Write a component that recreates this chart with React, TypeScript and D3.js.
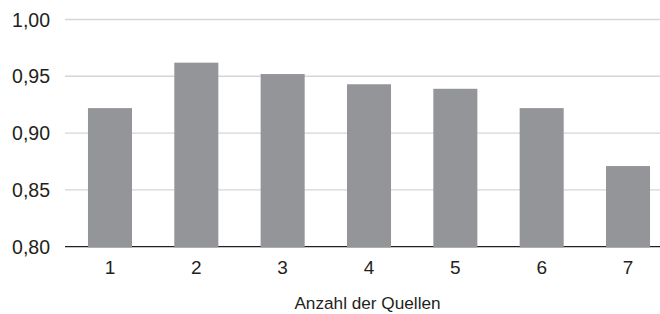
import React from "react";
import * as d3 from "d3";

const categories: string[] = ["1", "2", "3", "4", "5", "6", "7"];
const values: number[] = [0.922, 0.962, 0.952, 0.943, 0.939, 0.922, 0.871];
const yTicks: number[] = [0.8, 0.85, 0.9, 0.95, 1.0];
const xTitle = "Anzahl der Quellen";

const W = 660;
const H = 314;
const FONT = "'Liberation Sans', Arial, Helvetica, sans-serif";
const TEXT = "#231f20";

export default function App() {
  const x = d3
    .scaleBand<string>()
    .domain(categories)
    .range([65, 673])
    .paddingInner(0.49)
    .paddingOuter(0.266);
  const y = d3.scaleLinear().domain([0.8, 1.0]).range([246.7, 19.5]);
  const fmt = (v: number) => d3.format(".2f")(v).replace(".", ",");

  return (
    <svg
      width={W}
      height={H}
      style={{ position: "absolute", left: 0, top: 0, background: "#fff" }}
      fontFamily={FONT}
    >
      {yTicks.map((t) =>
        t > 0.8 ? (
          <line
            key={"g" + t}
            x1={65}
            x2={W}
            y1={y(t)}
            y2={y(t)}
            stroke="#d6d6d6"
            strokeWidth={1.4}
          />
        ) : null
      )}
      <line x1={65} x2={W} y1={y(0.8)} y2={y(0.8)} stroke={TEXT} strokeWidth={1.2} />
      {categories.map((c, i) => (
        <rect
          key={"b" + c}
          x={x(c)}
          y={y(values[i])}
          width={x.bandwidth()}
          height={y(0.8) - y(values[i]) + 0.8}
          fill="#939598"
        />
      ))}
      {yTicks.map((t) => (
        <text
          key={"yl" + t}
          x={50}
          y={y(t)}
          dy="0.36em"
          textAnchor="end"
          fontSize={19.5}
          fill={TEXT}
        >
          {fmt(t)}
        </text>
      ))}
      {categories.map((c) => (
        <text
          key={"xl" + c}
          x={(x(c) as number) + x.bandwidth() / 2}
          y={273.5}
          textAnchor="middle"
          fontSize={19}
          fill={TEXT}
        >
          {c}
        </text>
      ))}
      <text x={367.5} y={309} textAnchor="middle" fontSize={17.2} fill={TEXT}>
        {xTitle}
      </text>
    </svg>
  );
}
